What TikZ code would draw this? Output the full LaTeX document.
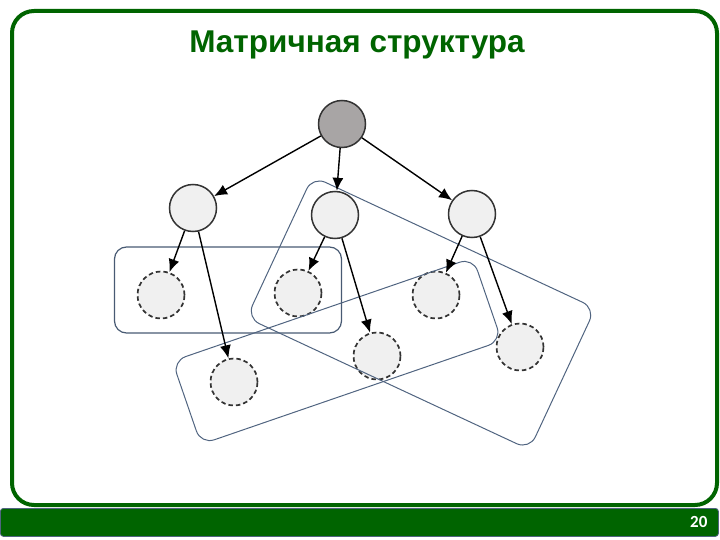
\documentclass[tikz,border=0pt]{standalone}
\usepackage{fontspec}
\setmainfont{Liberation Sans}
\newfontfamily\numfont{Carlito}
\usetikzlibrary{arrows.meta}
\definecolor{framegreen}{RGB}{0,100,0}
\definecolor{groupline}{RGB}{80,100,128}
\definecolor{rootgray}{RGB}{168,165,165}
\definecolor{unitgray}{RGB}{240,240,240}

\begin{document}
\begin{tikzpicture}[x=1pt, y=-1pt,
    unit/.style={circle, draw=black!80, line width=1.5pt, fill=unitgray, minimum size=47pt, inner sep=0pt},
    sub/.style={unit, line width=1.7pt, dash pattern=on 4.5pt off 3pt},
    group/.style={rectangle, draw=groupline, line width=1pt, rounded corners=14pt},
    link/.style={-{Latex[length=13pt, width=11pt]}, line width=1.4pt}]
  \useasboundingbox (0,0) rectangle (720,540);

  \draw[framegreen, line width=4pt, rounded corners=22pt] (12,11) rectangle (717,505);
  \node (bar) [rectangle, fill=framegreen, draw=groupline, line width=0.8pt, rounded corners=3pt,
    minimum width=718pt, minimum height=28pt, anchor=north west] at (0,508) {};
  \node (page) [text=white, anchor=east] at (711,522) {\numfont\bfseries\fontsize{17}{20}\selectfont 20};
  \node (title) [text=framegreen] at (357,45) {\bfseries\fontsize{31.5}{36}\selectfont Матричная структура};

  \node (T) [unit, fill=rootgray] at (342,124) {};
  \node (L) [unit] at (193,208) {};
  \node (M) [unit] at (335,215) {};
  \node (R) [unit] at (472,214) {};

  \node (a) [sub] at (161,295) {};
  \node (b) [sub] at (298,293) {};
  \node (c) [sub] at (436,295) {};
  \node (d) [sub] at (377,356) {};
  \node (e) [sub] at (234,382) {};
  \node (f) [sub] at (520,347) {};

  \node (G1) [group, draw=groupline!90!black, line width=1.2pt, rounded corners=12pt,
    minimum width=227pt, minimum height=86pt] at (228,290) {};
  \node (G2) [group, minimum width=312pt, minimum height=156pt, rotate=-25] at (421,313) {};
  \node (G3) [group, minimum width=318pt, minimum height=88pt, rotate=19] at (337,351) {};

  \draw[link] (T) -- (L);
  \draw[link] (T) -- (M);
  \draw[link] (T) -- (R);
  \draw[link] (L) -- (a);
  \draw[link] (L) -- (e);
  \draw[link] (M) -- (b);
  \draw[link] (M) -- (d);
  \draw[link] (R) -- (c);
  \draw[link] (R) -- (f);
\end{tikzpicture}
\end{document}
